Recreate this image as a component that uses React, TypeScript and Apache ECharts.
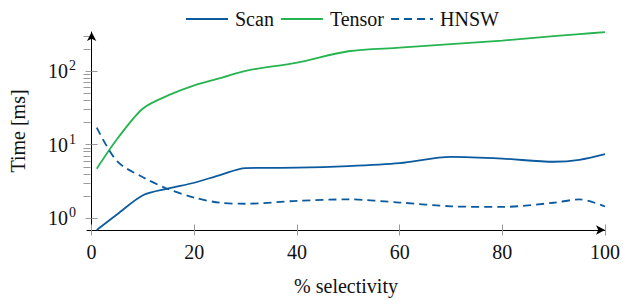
import React, { useEffect, useRef } from "react";
import * as echarts from "echarts";

const selectivity = [1, 5, 10, 15, 20, 25, 30, 40, 50, 60, 70, 80, 90, 95, 100];
const scanMs = [0.69, 1.13, 2.05, 2.54, 3.03, 3.86, 4.8, 4.85, 5.1, 5.6, 6.8, 6.45, 5.85, 6.2, 7.4];
const tensorMs = [4.7, 12, 31, 47, 64, 80, 101, 130, 186, 208, 232, 260, 298, 318, 339];
const hnswMs = [17, 5.9, 3.6, 2.47, 1.9, 1.62, 1.57, 1.72, 1.8, 1.63, 1.45, 1.42, 1.62, 1.8, 1.44];

const xTicks = [0, 20, 40, 60, 80, 100];
const yMajorTicks = [1, 10, 100];
const yMinorTicks = [2, 3, 4, 5, 6, 7, 8, 9, 20, 30, 40, 50, 60, 70, 80, 90, 200, 300];

const FONT = "Liberation Serif";
const BLUE = "#0b5a9e";
const GREEN = "#25b44f";
const TICK = "#999999";

export default function App() {
  const ref = useRef<HTMLDivElement>(null);
  useEffect(() => {
    if (!ref.current) return;
    const chart = echarts.init(ref.current, null, { renderer: "svg" });
    const pair = (a: number[], b: number[]) => a.map((x, i) => [x, b[i]]);
    const yBase = {
      type: "log",
      logBase: 10,
      min: 0.69,
      max: 340,
      position: "left",
      splitLine: { show: false },
      axisLabel: { show: false },
      axisLine: { show: false },
    };
    const xBase = {
      type: "value",
      min: -0.9,
      max: 100,
      position: "bottom",
      splitLine: { show: false },
      axisLabel: { show: false },
      axisLine: { show: false },
    };
    chart.setOption({
      animation: false,
      textStyle: { fontFamily: FONT },
      grid: { left: 86, right: 17.3, top: 32, bottom: 70, containLabel: false },
      legend: {
        top: 4,
        left: 180,
        itemWidth: 42,
        itemHeight: 12,
        itemGap: 6,
        itemStyle: { opacity: 0, color: "transparent", borderWidth: 0 },
        textStyle: { fontFamily: FONT, fontSize: 20, color: "#111", padding: [0, 0, 0, 2] },
        data: ["Scan", "Tensor", "HNSW"],
      },
      xAxis: [
        {
          ...xBase,
          name: "% selectivity",
          nameLocation: "middle",
          nameGap: 46,
          nameTextStyle: { fontFamily: FONT, fontSize: 20, color: "#111", verticalAlign: "top" },
          axisLine: {
            show: true,
            lineStyle: { color: "#000", width: 1 },
            symbol: ["none", "arrow"],
            symbolSize: [7, 9],
          },
          axisTick: { show: true, customValues: xTicks, length: 5.5, inside: false, lineStyle: { color: TICK } },
          axisLabel: { show: true, customValues: xTicks, margin: 12, fontFamily: FONT, fontSize: 20, color: "#111" },
        },
        {
          ...xBase,
          axisTick: { show: true, customValues: xTicks, length: 5.5, inside: true, lineStyle: { color: TICK } },
        },
      ],
      yAxis: [
        {
          ...yBase,
          name: "Time [ms]",
          nameLocation: "middle",
          nameGap: 59,
          nameRotate: 90,
          nameTextStyle: { fontFamily: FONT, fontSize: 20, color: "#111" },
          axisLine: {
            show: true,
            lineStyle: { color: "#000", width: 1 },
            symbol: ["none", "arrow"],
            symbolSize: [7, 9],
          },
          axisTick: { show: true, customValues: yMajorTicks, length: 6, inside: false, lineStyle: { color: TICK } },
          axisLabel: {
            show: true,
            customValues: yMajorTicks,
            margin: 11,
            formatter: (v: number) => `{b|10}{s|${Math.round(Math.log10(v))}}`,
            rich: {
              b: { fontFamily: FONT, fontSize: 20, color: "#111" },
              s: { fontFamily: FONT, fontSize: 14, color: "#111", padding: [0, 0, 11, 1] },
            },
          },
        },
        {
          ...yBase,
          axisTick: { show: true, customValues: yMajorTicks, length: 6, inside: true, lineStyle: { color: TICK } },
        },
        {
          ...yBase,
          axisTick: { show: true, customValues: yMinorTicks, length: 3.5, inside: false, lineStyle: { color: TICK } },
        },
        {
          ...yBase,
          axisTick: { show: true, customValues: yMinorTicks, length: 3.5, inside: true, lineStyle: { color: TICK } },
        },
      ],
      series: [
        {
          name: "Scan",
          type: "line",
          data: pair(selectivity, scanMs),
          smooth: 0.3,
          symbol: "none",
          lineStyle: { color: BLUE, width: 1.8 },
          itemStyle: { color: BLUE },
        },
        {
          name: "Tensor",
          type: "line",
          data: pair(selectivity, tensorMs),
          smooth: 0.3,
          symbol: "none",
          lineStyle: { color: GREEN, width: 1.8 },
          itemStyle: { color: GREEN },
        },
        {
          name: "HNSW",
          type: "line",
          data: pair(selectivity, hnswMs),
          smooth: 0.3,
          symbol: "none",
          lineStyle: { color: BLUE, width: 1.8, type: [8, 5] },
          itemStyle: { color: BLUE },
        },
      ],
    });
    return () => chart.dispose();
  }, []);
  return (
    <div
      ref={ref}
      style={{ position: "fixed", left: 0, top: 0, width: 623, height: 301, background: "#fff" }}
    />
  );
}
